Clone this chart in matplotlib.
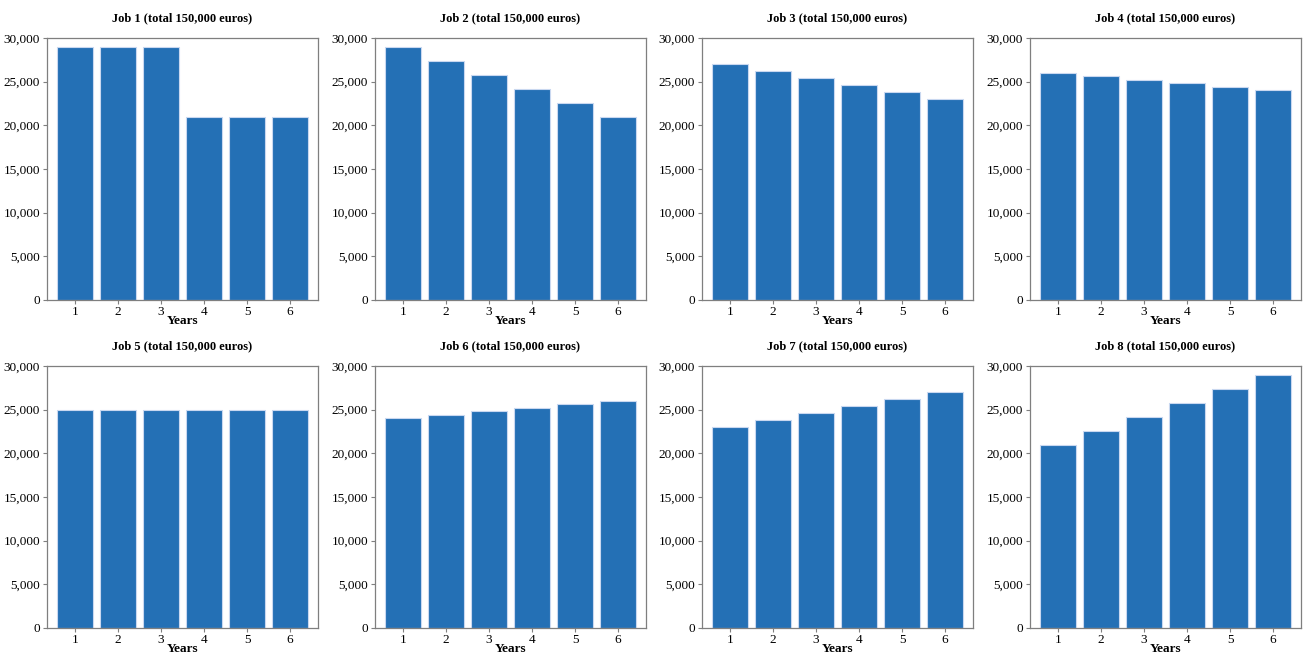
import matplotlib
matplotlib.use("Agg")
import matplotlib.pyplot as plt
from matplotlib.ticker import FuncFormatter

plt.rcParams['font.family'] = ['Liberation Serif', 'DejaVu Serif']

years = [1, 2, 3, 4, 5, 6]
job_names = ["Job 1", "Job 2", "Job 3", "Job 4", "Job 5", "Job 6", "Job 7", "Job 8"]
job1 = [29000, 29000, 29000, 21000, 21000, 21000]
job2 = [29000, 27400, 25800, 24200, 22600, 21000]
job3 = [27000, 26200, 25400, 24600, 23800, 23000]
job4 = [26000, 25600, 25200, 24800, 24400, 24000]
job5 = [25000, 25000, 25000, 25000, 25000, 25000]
job6 = [24000, 24400, 24800, 25200, 25600, 26000]
job7 = [23000, 23800, 24600, 25400, 26200, 27000]
job8 = [21000, 22600, 24200, 25800, 27400, 29000]
jobs = [job1, job2, job3, job4, job5, job6, job7, job8]

bar_col = '#2470b5'
spine_col = '#7f7f7f'

fig = plt.figure(figsize=(13.04, 6.57), dpi=100)

W, H = 1304, 657
lefts = [47, 375, 702, 1030]
tops = [38, 366]
aw, ah = 271, 262

fmt = FuncFormatter(lambda v, p: "{:,.0f}".format(v))

for i, (name, vals) in enumerate(zip(job_names, jobs)):
	r, c = divmod(i, 4)
	ax = fig.add_axes([lefts[c] / W, 1 - (tops[r] + ah) / H, aw / W, ah / H])
	ax.bar(years, vals, width=0.84, color=bar_col, edgecolor='#c9d8f0', linewidth=0.8)
	ax.set_xlim(0.35, 6.65)
	ax.set_ylim(0, 30000)
	ax.set_yticks(range(0, 30001, 5000))
	ax.yaxis.set_major_formatter(fmt)
	ax.set_xticks(years)
	ax.tick_params(labelsize=9.5, length=3, width=0.8, color=spine_col, labelcolor='black', pad=2)
	ax.tick_params(axis='x', pad=1)
	for s in ax.spines.values():
		s.set_color(spine_col)
		s.set_linewidth(0.9)
	ax.set_title("{} (total 150,000 euros)".format(name), fontsize=9, fontweight='bold', pad=12)
	ax.set_xlabel("Years", fontsize=9.5, fontweight='bold', labelpad=-1.5)

fig.savefig("out.png", dpi=100)
